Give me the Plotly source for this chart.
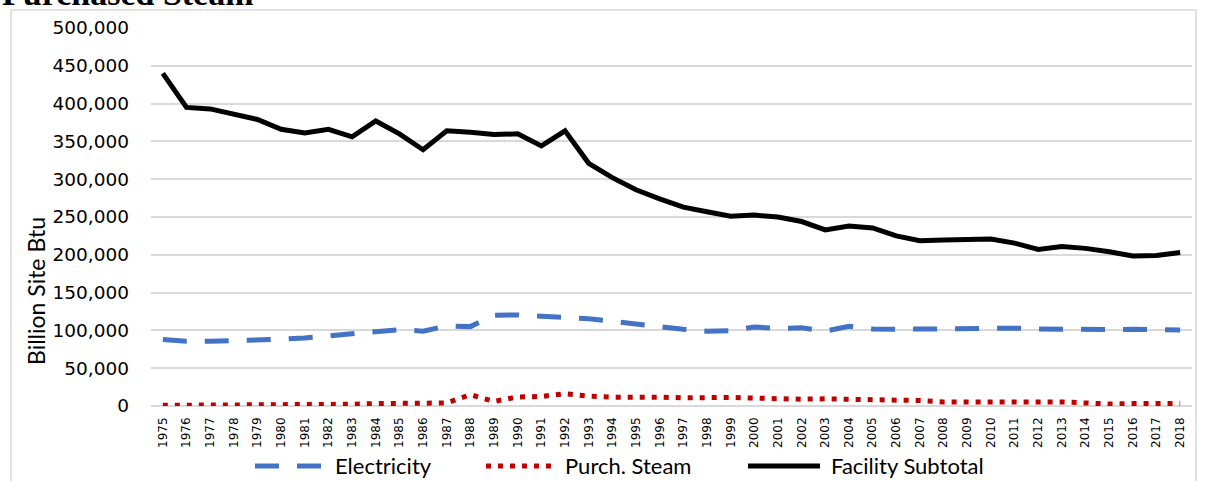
import plotly.graph_objects as go

years = [str(y) for y in range(1975, 2019)]

electricity = [88000, 85500, 85500, 86000, 87000, 88500, 90000, 92500, 94500, 98000,
               101000, 99000, 106000, 105000, 120000, 120500, 118000, 117000, 115500, 112000,
               107500, 104500, 101500, 99000, 99500, 104500, 102500, 103500, 99000, 105500,
               102000, 101500, 102000, 102000, 101500, 102000, 103000, 102000, 101500, 100000,
               101000, 101500, 101500, 100500]

purch_steam = [900, 900, 900, 1000, 1800, 1800, 1800, 1800, 2300, 3200,
               3000, 2700, 4000, 15000, 6000, 12000, 12600, 16200, 13000, 11700,
               12000, 11700, 10800, 11300, 11300, 10400, 9000, 9000, 9500, 9000,
               9000, 8100, 7200, 5400, 5400, 6300, 5400, 6300, 5400, 4000,
               2700, 3200, 3200, 3200]

facility_subtotal = [440000, 395000, 393000, 386000, 379000, 366000, 361000, 366000, 356000, 377000,
                     360000, 339000, 364000, 362000, 359000, 360000, 344000, 364000, 321000, 302000,
                     286000, 274000, 263000, 257000, 251000, 252500, 250000, 244000, 233000, 238000,
                     235500, 225000, 218500, 219500, 221000, 221000, 215500, 207000, 211000, 208500,
                     204000, 198500, 199000, 203000]

series_names = ['Electricity', 'Purch. Steam', 'Facility Subtotal']
series_colors = ['#4472C4', '#C00000', 'black']
series_dash = ['24px,18px', '5px,7px', 'solid']

fig = go.Figure()

for name, vals, col, dash in zip(series_names, [electricity, purch_steam, facility_subtotal],
                                 series_colors, series_dash):
    fig.add_trace(go.Scatter(
        x=years, y=vals, mode='lines', name=name,
        line=dict(color=col, width=5, dash=dash)
    ))

# plot area in pixels: x 151..1192, y 28..406
W, H = 1206, 481
L, R, T, B = 151, 1192, 28, 406


def px(x):
    return (x - L) / (R - L)


def py(y):
    return (B - y) / (B - T)


# legend drawn by hand so the symbols are as long as in the original
leg_y = 466
leg_sym = [(255, 321), (486, 552), (748, 820)]
leg_text_x = [333, 563, 829]

shapes = [
    dict(type='rect', xref='paper', yref='paper',
         x0=px(11), x1=px(1196), y0=py(495), y1=py(10),
         line=dict(color='#d9d9d9', width=1.5), layer='below'),
]
annotations = [
    dict(text='Billion Site Btu', textangle=-90, x=px(36), y=py(291),
         xanchor='center', yanchor='middle',
         xref='paper', yref='paper', showarrow=False,
         font=dict(family='Lato', size=23, color='black')),
    dict(text='<b>Purchased Steam</b>', x=px(0), y=py(14), xanchor='left', yanchor='bottom',
         xref='paper', yref='paper', showarrow=False,
         font=dict(family='Liberation Serif', size=34, color='black')),
]
for (x0, x1), tx, name, col, dash in zip(leg_sym, leg_text_x, series_names,
                                        series_colors, series_dash):
    shapes.append(dict(type='line', xref='paper', yref='paper',
                       x0=px(x0), x1=px(x1), y0=py(leg_y), y1=py(leg_y),
                       line=dict(color=col, width=5, dash=dash)))
    annotations.append(dict(text=name, x=px(tx), y=py(leg_y), xanchor='left', yanchor='middle',
                            xref='paper', yref='paper', showarrow=False,
                            font=dict(family='Lato', size=22, color='black')))

fig.update_layout(
    width=W, height=H,
    margin=dict(l=L, r=W - R, t=T, b=H - B, autoexpand=False),
    paper_bgcolor='white', plot_bgcolor='white',
    showlegend=False,
    annotations=annotations,
    shapes=shapes,
)

fig.update_xaxes(
    type='category', range=[-0.5, len(years) - 0.5], automargin=False,
    showgrid=False, showline=False, ticks='', tickangle=-90, ticklabelstandoff=8,
    tickfont=dict(family='DejaVu Sans', size=12, color='black'),
)
fig.update_yaxes(
    range=[0, 500000], dtick=50000, tickformat=',', automargin=False,
    showgrid=True, gridcolor='#d9d9d9', gridwidth=1.5,
    zeroline=True, zerolinecolor='#d9d9d9', zerolinewidth=1.5,
    showline=False, ticks='', ticklabelstandoff=21,
    tickfont=dict(family='DejaVu Sans', size=18.5, color='black'),
)

fig.write_html("out.html", config={'displayModeBar': False},
               post_script="document.body.style.margin='0';")
